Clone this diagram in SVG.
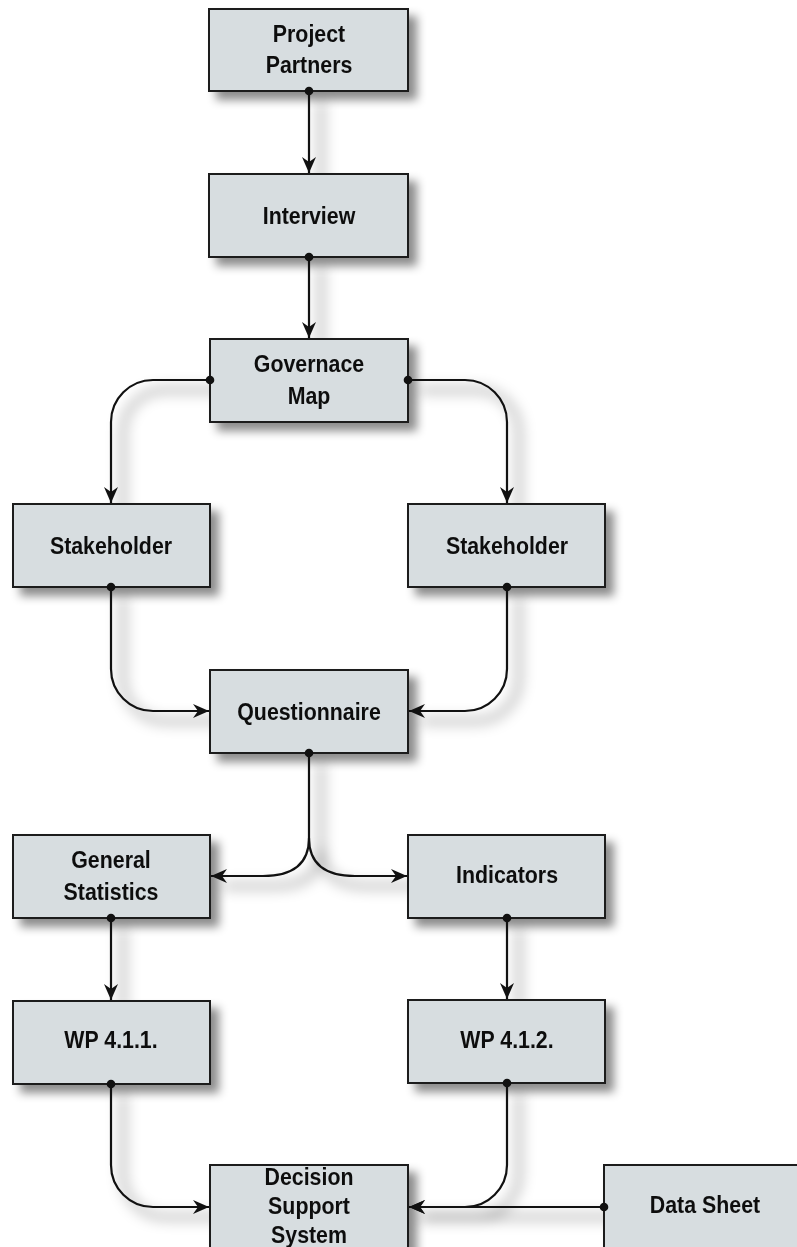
<svg xmlns="http://www.w3.org/2000/svg" width="797" height="1247" viewBox="0 0 797 1247">
<style>
.box{fill:#d7dde0;stroke:#1a1a1a;stroke-width:2}
.lbl{font-family:"Liberation Sans",Arial,sans-serif;font-weight:bold;font-size:24px;fill:#111;text-anchor:middle}
.con{fill:none;stroke:#111;stroke-width:2.2}
.c{marker-start:url(#dot);marker-end:url(#arr)}
.shd{fill:none;stroke:#000;stroke-opacity:0.45;stroke-width:4}
</style>
<defs>
<filter id="sh" x="-20%" y="-20%" width="150%" height="160%">
<feDropShadow dx="8" dy="8" stdDeviation="5" flood-color="#000" flood-opacity="0.45"/>
</filter>
<filter id="lblur" x="-50%" y="-20%" width="200%" height="150%">
<feGaussianBlur stdDeviation="7"/>
</filter>
<marker id="arr" markerUnits="userSpaceOnUse" markerWidth="18" markerHeight="18" viewBox="0 0 18 18" refX="17" refY="9" orient="auto">
<path d="M1,2 L17,9 L1,16 L6,9 Z" fill="#111"/>
</marker>
<marker id="dot" markerUnits="userSpaceOnUse" markerWidth="12" markerHeight="12" viewBox="0 0 12 12" refX="6" refY="6" orient="auto">
<circle cx="6" cy="6" r="4.3" fill="#111"/>
</marker>
<path id="p1" d="M309,91 V173"/>
<path id="p2" d="M309,257 V338"/>
<path id="p3" d="M210,380 H153 A42,42 0 0 0 111,422 V503"/>
<path id="p4" d="M408,380 H465 A42,42 0 0 1 507,422 V503"/>
<path id="p5" d="M111,587 V669 A42,42 0 0 0 153,711 H209"/>
<path id="p6" d="M507,587 V669 A42,42 0 0 1 465,711 H409"/>
<path id="p7" d="M309,753 V838 C309,866 290,876 263,876 H211"/>
<path id="p8" d="M309,838 C309,866 328,876 355,876 H407"/>
<path id="p9" d="M111,918 V1000"/>
<path id="p10" d="M507,918 V999"/>
<path id="p11" d="M111,1084 V1165 A42,42 0 0 0 153,1207 H209"/>
<path id="p12" d="M507,1083 V1165 A42,42 0 0 1 465,1207 H409"/>
<path id="p13" d="M604,1207 H409"/>
</defs>

<g id="connector-shadows" class="shd" filter="url(#lblur)" transform="translate(12,10)">
<use href="#p1"/><use href="#p2"/><use href="#p3"/><use href="#p4"/><use href="#p5"/><use href="#p6"/><use href="#p7"/><use href="#p8"/><use href="#p9"/><use href="#p10"/><use href="#p11"/><use href="#p12"/><use href="#p13"/>
</g>

<g id="n-project-partners" filter="url(#sh)">
<rect class="box" x="209" y="9" width="199" height="82"/>
<g transform="translate(309,0) scale(0.89,1)"><text class="lbl" x="0" y="42">Project</text><text class="lbl" x="0" y="73">Partners</text></g>
</g>
<g id="n-interview" filter="url(#sh)">
<rect class="box" x="209" y="174" width="199" height="83"/>
<g transform="translate(309,0) scale(0.89,1)"><text class="lbl" x="0" y="224">Interview</text></g>
</g>
<g id="n-governace-map" filter="url(#sh)">
<rect class="box" x="210" y="339" width="198" height="83"/>
<g transform="translate(309,0) scale(0.89,1)"><text class="lbl" x="0" y="372">Governace</text><text class="lbl" x="0" y="404">Map</text></g>
</g>
<g id="n-stakeholder-left" filter="url(#sh)">
<rect class="box" x="13" y="504" width="197" height="83"/>
<g transform="translate(111,0) scale(0.89,1)"><text class="lbl" x="0" y="554">Stakeholder</text></g>
</g>
<g id="n-stakeholder-right" filter="url(#sh)">
<rect class="box" x="408" y="504" width="197" height="83"/>
<g transform="translate(507,0) scale(0.89,1)"><text class="lbl" x="0" y="554">Stakeholder</text></g>
</g>
<g id="n-questionnaire" filter="url(#sh)">
<rect class="box" x="210" y="670" width="198" height="83"/>
<g transform="translate(309,0) scale(0.89,1)"><text class="lbl" x="0" y="720">Questionnaire</text></g>
</g>
<g id="n-general-statistics" filter="url(#sh)">
<rect class="box" x="13" y="835" width="197" height="83"/>
<g transform="translate(111,0) scale(0.89,1)"><text class="lbl" x="0" y="868">General</text><text class="lbl" x="0" y="900">Statistics</text></g>
</g>
<g id="n-indicators" filter="url(#sh)">
<rect class="box" x="408" y="835" width="197" height="83"/>
<g transform="translate(507,0) scale(0.89,1)"><text class="lbl" x="0" y="883">Indicators</text></g>
</g>
<g id="n-wp411" filter="url(#sh)">
<rect class="box" x="13" y="1001" width="197" height="83"/>
<g transform="translate(111,0) scale(0.89,1)"><text class="lbl" x="0" y="1048">WP 4.1.1.</text></g>
</g>
<g id="n-wp412" filter="url(#sh)">
<rect class="box" x="408" y="1000" width="197" height="83"/>
<g transform="translate(507,0) scale(0.89,1)"><text class="lbl" x="0" y="1048">WP 4.1.2.</text></g>
</g>
<g id="n-decision-support-system" filter="url(#sh)">
<rect class="box" x="210" y="1165" width="198" height="90"/>
<g transform="translate(309,0) scale(0.89,1)"><text class="lbl" x="0" y="1185">Decision</text><text class="lbl" x="0" y="1214">Support</text><text class="lbl" x="0" y="1243">System</text></g>
</g>
<g id="n-data-sheet" filter="url(#sh)">
<rect class="box" x="604" y="1165" width="200" height="90"/>
<g transform="translate(705,0) scale(0.89,1)"><text class="lbl" x="0" y="1213">Data Sheet</text></g>
</g>

<g id="connectors" class="con">
<use href="#p1" class="c"/>
<use href="#p2" class="c"/>
<use href="#p3" class="c"/>
<use href="#p4" class="c"/>
<use href="#p5" class="c"/>
<use href="#p6" class="c"/>
<use href="#p7" class="c"/>
<use href="#p8" style="marker-end:url(#arr)"/>
<use href="#p9" class="c"/>
<use href="#p10" class="c"/>
<use href="#p11" class="c"/>
<use href="#p12" class="c"/>
<use href="#p13" class="c"/>
</g>
</svg>
